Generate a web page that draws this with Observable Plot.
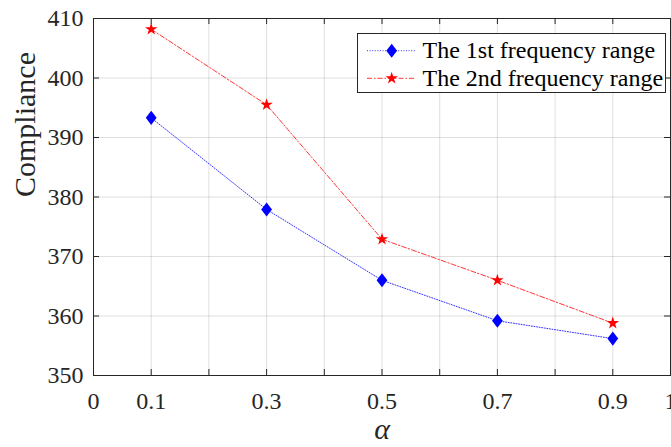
<!DOCTYPE html>
<html><head><meta charset="utf-8">
<script src="https://cdn.jsdelivr.net/npm/d3@7"></script>
<script src="https://cdn.jsdelivr.net/npm/@observablehq/plot@0.6"></script>
<style>
body{margin:0;background:#fff;}
#wrap{position:relative;width:671px;height:447px;overflow:hidden;background:#fff;}
#legend{position:absolute;left:357px;top:33px;}
</style></head><body><div id="wrap"></div>
<script>
// ---- data ----
const alpha = [0.1, 0.3, 0.5, 0.7, 0.9];
const range1 = [393.3, 377.9, 366.0, 359.2, 356.2];
const range2 = [408.2, 395.5, 372.9, 366.0, 358.8];
const seriesNames = ["The 1st frequency range", "The 2nd frequency range"];
const xTickLabels = [0, 0.1, 0.3, 0.5, 0.7, 0.9, 1];
const xTickMarks = [0, 0.1, 0.2, 0.3, 0.4, 0.5, 0.6, 0.7, 0.8, 0.9, 1];
const yTicks = [350, 360, 370, 380, 390, 400, 410];
const xLabel = "α";
const yLabel = "Compliance";

// ---- layout / style ----
const W = 671, H = 447, mL = 93, mR = 1, mT = 18, mB = 72;
const pw = W - mL - mR, ph = H - mT - mB;
const ink = "#262626";
const font = '"Liberation Serif","Times New Roman",serif';

const diamond = {draw(ctx, size) {
  const s = Math.sqrt(size / Math.PI);
  ctx.moveTo(0, -1.3 * s); ctx.lineTo(s, 0); ctx.lineTo(0, 1.3 * s); ctx.lineTo(-s, 0); ctx.closePath();
}};

const d1 = alpha.map((a, i) => ({a, v: range1[i]}));
const d2 = alpha.map((a, i) => ({a, v: range2[i]}));

const blueStyle = {stroke: "blue", strokeWidth: 0.8, strokeDasharray: "1 1.6"};
const redStyle = {stroke: "red", strokeWidth: 0.8, strokeDasharray: "5 2 1.5 2"};

const plot = Plot.plot({
  width: W, height: H, marginLeft: mL, marginRight: mR, marginTop: mT, marginBottom: mB,
  style: {fontFamily: font, background: "white", color: ink, overflow: "visible"},
  x: {domain: [0, 1]},
  y: {domain: [350, 410]},
  marks: [
    Plot.gridX(xTickMarks, {stroke: ink, strokeOpacity: 0.15}),
    Plot.gridY(yTicks, {stroke: ink, strokeOpacity: 0.15}),
    Plot.tickX(xTickMarks, {x: d => d, insetTop: ph - 6, stroke: ink}),
    Plot.tickX(xTickMarks, {x: d => d, insetBottom: ph - 6, stroke: ink}),
    Plot.tickY(yTicks, {y: d => d, insetRight: pw - 6, stroke: ink}),
    Plot.tickY(yTicks, {y: d => d, insetLeft: pw - 6, stroke: ink}),
    Plot.axisX(xTickLabels, {tickSize: 0, tickPadding: 16, fontSize: 24, tickFormat: d => String(d), label: null}),
    Plot.axisY(yTicks, {tickSize: 0, tickPadding: 10, fontSize: 24, label: null}),
    Plot.line(d1, {x: "a", y: "v", ...blueStyle}),
    Plot.line(d2, {x: "a", y: "v", ...redStyle}),
    Plot.dot(d1, {x: "a", y: "v", symbol: diamond, r: 5.4, fill: "blue", stroke: "none"}),
    Plot.dot(d2, {x: "a", y: "v", symbol: "star", r: 3.9, fill: "red", stroke: "none"}),
    Plot.frame({stroke: ink}),
    Plot.text([yLabel], {frameAnchor: "left", rotate: -90, dx: -68, fontSize: 30, fill: ink}),
    Plot.text([xLabel], {frameAnchor: "bottom", dy: 63, fontSize: 30, fontStyle: "italic", fill: ink})
  ]
});

const wrap = document.getElementById("wrap");
wrap.appendChild(plot);

// ---- legend ----
const lg = d3.select(wrap).append("svg").attr("id", "legend")
  .attr("width", 310).attr("height", 61)
  .style("font-family", font);
lg.append("rect").attr("x", 0.5).attr("y", 0.5).attr("width", 308).attr("height", 59)
  .attr("fill", "white").attr("stroke", ink).attr("stroke-width", 1);
const rows = [
  {name: seriesNames[0], st: blueStyle, sym: d3.symbol(diamond, Math.PI * 5.4 * 5.4)(), fill: "blue"},
  {name: seriesNames[1], st: redStyle, sym: d3.symbol(d3.symbolStar, Math.PI * 3.9 * 3.9)(), fill: "red"}
];
rows.forEach((r, i) => {
  const cy = 17.7 + i * 27.6;
  lg.append("line").attr("x1", 10).attr("x2", 59).attr("y1", cy).attr("y2", cy)
    .attr("stroke", r.st.stroke).attr("stroke-width", r.st.strokeWidth).attr("stroke-dasharray", r.st.strokeDasharray);
  lg.append("path").attr("d", r.sym).attr("transform", `translate(34.7,${cy})`).attr("fill", r.fill);
  lg.append("text").attr("x", 65.5).attr("y", cy + 7.6).attr("font-size", 24).attr("fill", "#000").text(r.name);
});
</script></body></html>
